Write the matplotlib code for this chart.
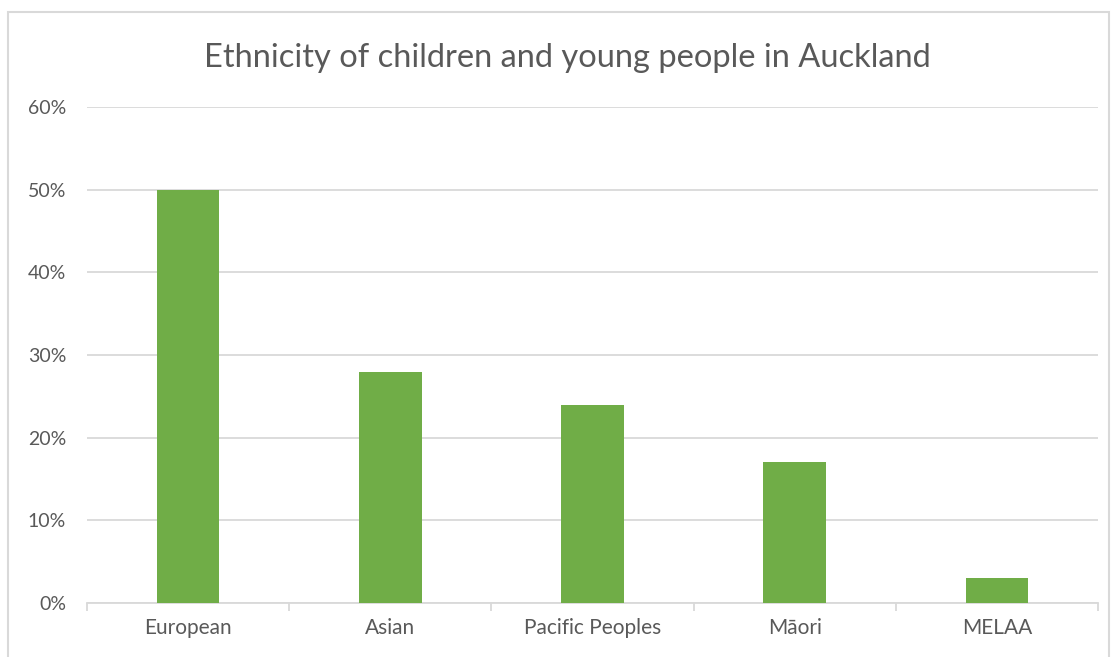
import matplotlib.pyplot as plt
from matplotlib.patches import Rectangle
from matplotlib.ticker import PercentFormatter, FixedLocator
import numpy as np

categories = ['European', 'Asian', 'Pacific Peoples', 'Māori', 'MELAA']
shares = [0.50, 0.28, 0.24, 0.17, 0.03]

plt.rcParams['font.family'] = ['Lato', 'DejaVu Sans']
text_col = '#595959'
grid_col = '#D9D9D9'

fig = plt.figure(figsize=(11.13, 6.57), dpi=100)
ax = fig.add_axes([0.0782, 0.0822, 0.9083, 0.7549])

# outer chart border
fig.patches.append(Rectangle((8 / 1113, -0.01), 1101 / 1113, 1 - 12 / 657 + 0.01,
                             transform=fig.transFigure, fill=False,
                             edgecolor=grid_col, linewidth=1.5))

x = np.arange(len(categories))
ax.bar(x, shares, width=0.31, color='#70AD47', zorder=3)

ax.set_xlim(-0.5, len(categories) - 0.5)
ax.set_ylim(0, 0.6)
ax.set_yticks(np.arange(0, 0.61, 0.1))
ax.yaxis.set_major_formatter(PercentFormatter(1.0, decimals=0))
ax.grid(axis='y', color=grid_col, linewidth=1.3, zorder=0)

ax.set_xticks(x)
ax.set_xticklabels(categories)
ax.xaxis.set_minor_locator(FixedLocator(np.arange(-0.5, len(categories), 1.0)))
ax.tick_params(axis='x', which='major', length=0, pad=11, labelsize=15, labelcolor=text_col)
ax.tick_params(axis='x', which='minor', length=6, width=1.3, color=grid_col, direction='out')
ax.tick_params(axis='y', length=0, pad=15, labelsize=14, labelcolor=text_col)

for side in ['top', 'right', 'left']:
    ax.spines[side].set_visible(False)
ax.spines['bottom'].set_color(grid_col)
ax.spines['bottom'].set_linewidth(1.3)

fig.text(0.5095, 1 - 58 / 657, 'Ethnicity of children and young people in Auckland',
         ha='center', va='center', fontsize=23.5, color=text_col)

fig.savefig('out.png', dpi=100)
